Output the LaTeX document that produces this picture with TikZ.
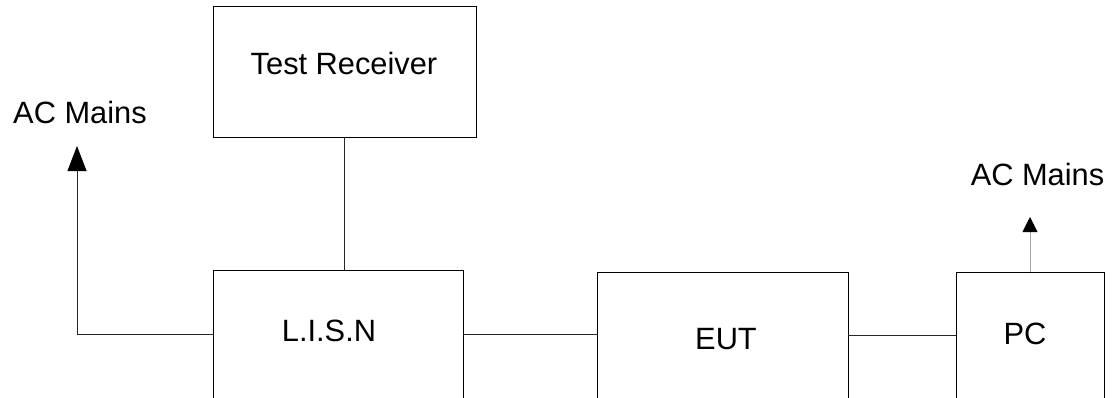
\documentclass[tikz,border=0pt]{standalone}
\usepackage{fontspec}
\setmainfont{Liberation Sans}
\usetikzlibrary{arrows.meta}
\begin{document}
\begin{tikzpicture}[x=1bp,y=-1bp,
  box/.style={draw=black, line width=0.9bp, inner sep=0pt, outer sep=0pt},
  lbl/.style={inner sep=0pt, font=\fontsize{30.8bp}{36bp}\selectfont},
  wire/.style={line width=0.9bp, draw=black!85}]
\useasboundingbox (0,0) rectangle (1120,397);
\clip (0,0) rectangle (1120,397);
% boxes
\node[box, minimum width=263bp, minimum height=131bp] (tr) at (344.5,71.5) {};
\node[box, minimum width=250bp, minimum height=150bp] (lisn) at (338,345) {};
\node[box, minimum width=251bp, minimum height=150bp] (eut) at (722.5,347) {};
\node[box, minimum width=148bp, minimum height=150bp] (pc) at (1030,347) {};
% labels
\node[lbl] (trt) at (344,63) {Test Receiver};
\node[lbl] (lisnt) at (329,330.5) {L.I.S.N};
\node[lbl] (eutt) at (726,339.5) {EUT};
\node[lbl] (pct) at (1025,334) {PC};
\node[lbl] (acl) at (80,112) {AC Mains};
\node[lbl] (acr) at (1037.5,174) {AC Mains};
% coordinates
\coordinate (h1) at (0,334);
\coordinate (h2) at (0,335);
\coordinate (tipl) at (77,146);
\coordinate (tipr) at (1030,217);
% connectors
\draw[wire] (tr.south) -- (tr.south |- lisn.north);
\draw[wire] (lisn.east |- h1) -- (eut.west |- h1);
\draw[wire] (eut.east |- h2) -- (pc.west |- h2);
\draw[wire, -{Triangle[width=19bp,length=25bp,color=black]}] (lisn.west |- h1) -| (tipl);
\draw[line width=0.9bp, draw=black!35, -{Triangle[width=15bp,length=15bp,color=black]}] (pc.north) -- (tipr);
\end{tikzpicture}
\end{document}
